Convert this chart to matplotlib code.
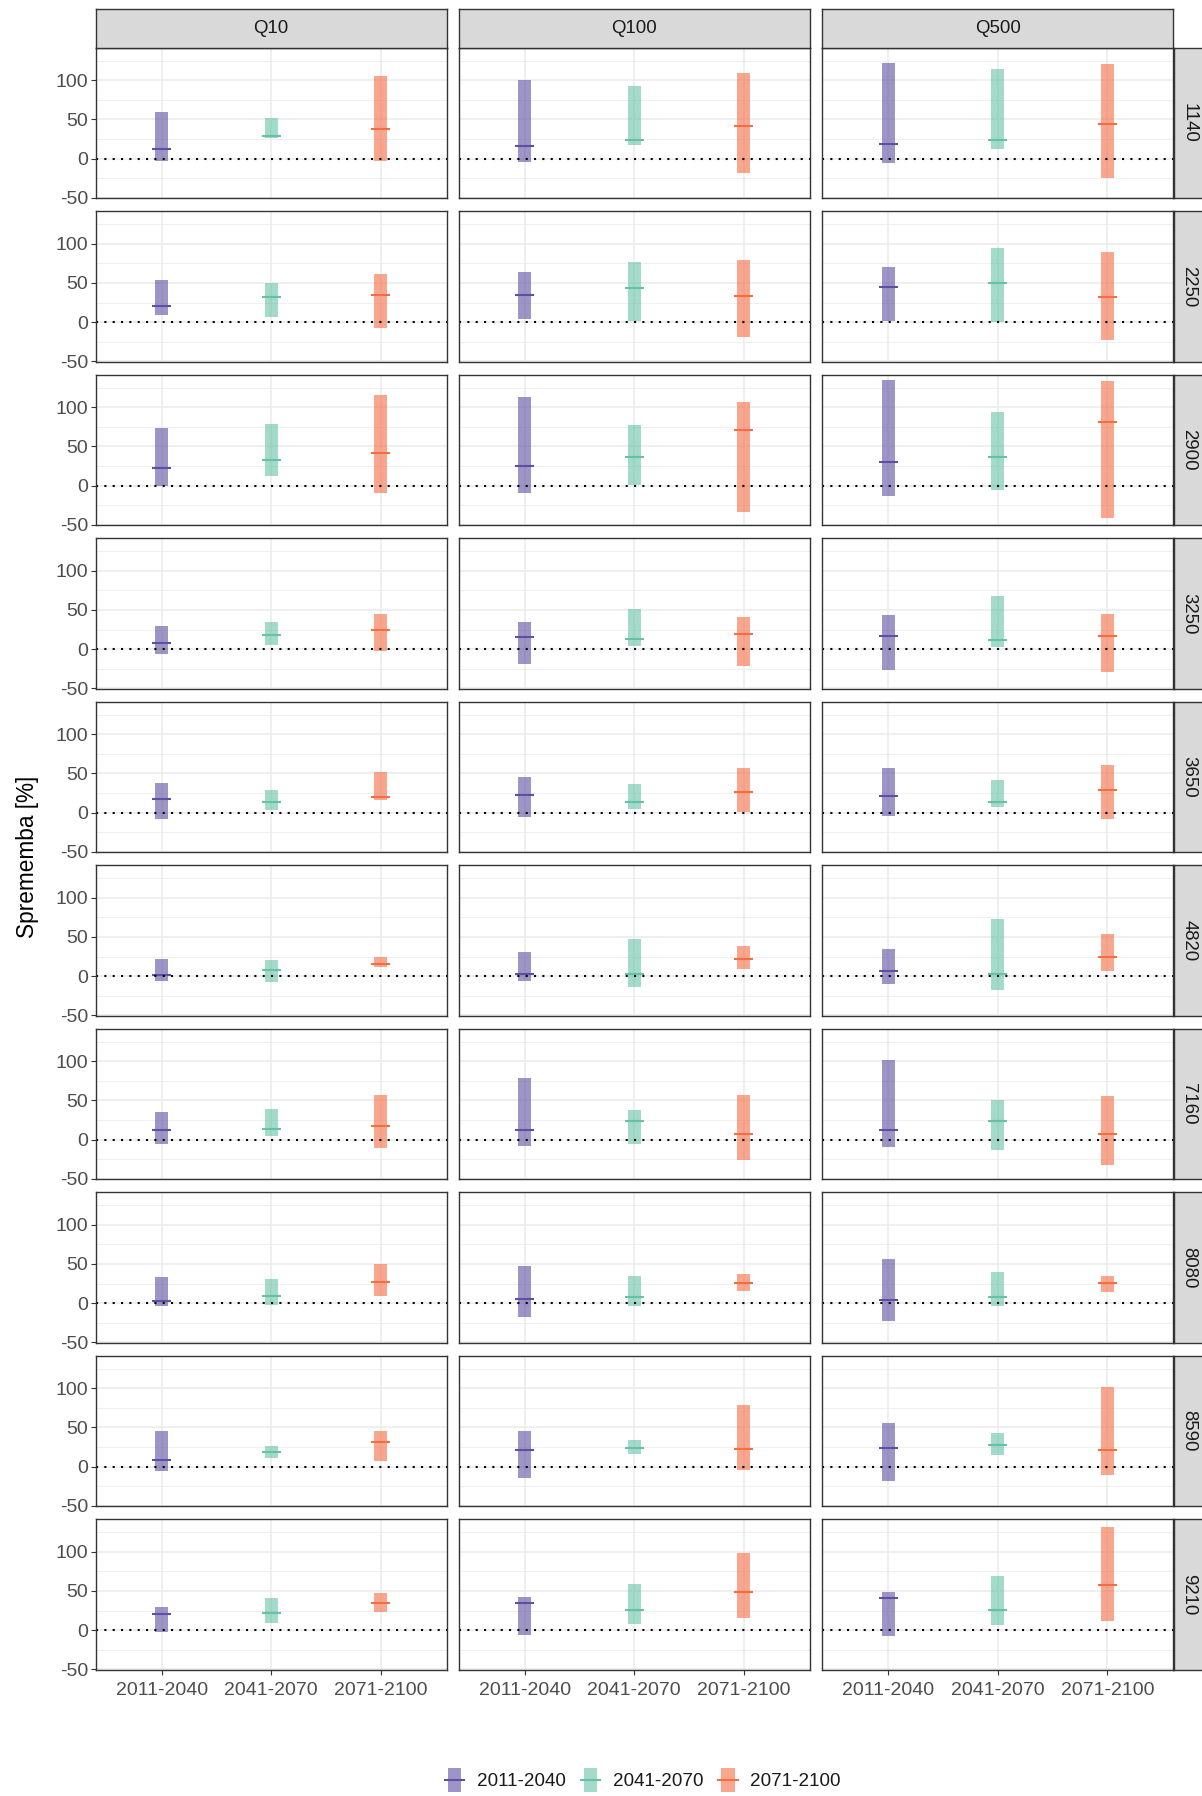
import matplotlib
matplotlib.use("Agg")
import matplotlib.pyplot as plt
import numpy as np
from matplotlib.patches import Patch, Rectangle
from matplotlib.lines import Line2D
from matplotlib.legend_handler import HandlerBase

plt.rcParams['font.family'] = ['Liberation Sans', 'DejaVu Sans']
plt.rcParams['axes.unicode_minus'] = False

# ---------------- data ----------------
stations = ["1140", "2250", "2900", "3250", "3650", "4820", "7160", "8080", "8590", "9210"]
quantiles = ["Q10", "Q100", "Q500"]
periods = ["2011-2040", "2041-2070", "2071-2100"]
period_colors = ["#5E4FA2", "#66C2A5", "#F46D43"]
y_ticks = [-50, 0, 50, 100]
y_tick_labels = ["-50", "0", "50", "100"]
y_minor = [-25, 25, 75, 125]

# 2011-2040 (rows: stations, cols: Q10, Q100, Q500)
p1_lo = [[-3, -4.7, -5.5], [9.4, 3.8, 1.7], [0, -9.7, -13.6], [-5.6, -19, -26], [-8, -5.5, -3.8],
         [-6.4, -6, -9.4], [-6, -8.5, -9.4], [-3.4, -17, -23], [-6, -14, -18.3], [-2.6, -6.4, -8]]
p1_med = [[12, 16.6, 18.7], [20, 34, 44.4], [22, 25.4, 30], [7.3, 15, 16.2], [17.9, 22, 21.3],
          [1, 3, 6.8], [12, 12.8, 12.4], [3, 5.1, 3.8], [8, 21.3, 23.8], [20.9, 34, 40.4]]
p1_hi = [[59, 100, 122], [54, 64, 70.5], [73, 112.7, 134], [29.5, 34.6, 43.6], [38.3, 45.5, 57],
         [22, 30.8, 35], [35, 78.6, 100.9], [33.8, 47.9, 56], [45, 45, 55], [29.4, 42.6, 48.5]]

# 2041-2070
p2_lo = [[26, 17.4, 12.8], [6, 1, 0.4], [12.3, 0.4, -5.5], [4.7, 3.8, 3.4], [3, 5, 7.2],
         [-7.7, -14, -17], [4.3, -5.6, -12.8], [-1.7, -3.8, -3.8], [10.6, 15.7, 15], [9.4, 8, 6]]
p2_med = [[28.5, 24, 24], [32, 43, 50], [32.6, 36.4, 36.9], [18.4, 12.8, 11.1], [14, 13.6, 13.2],
          [8, 3, 2.6], [14.1, 24.4, 23.5], [9, 7.7, 7.3], [18.7, 24.3, 27.2], [21.3, 25.1, 26]]
p2_hi = [[52, 93, 114], [50, 76.5, 94.4], [78.4, 76.7, 93.6], [35, 51.7, 67.5], [29, 36, 41.3],
         [21, 47.4, 72.2], [39.7, 37.6, 50.9], [30.3, 35, 39.3], [26.4, 34.5, 42.6], [40.9, 58.7, 68.5]]

# 2071-2100
p3_lo = [[-3.4, -18, -24], [-8, -18.4, -23], [-9.7, -33, -41], [-2, -21.4, -29], [16.6, 1, -8],
         [11.5, 9, 6], [-10.3, -25.6, -32.5], [9.4, 15.8, 14.5], [6.8, -4.7, -10], [23.4, 15.7, 12.3]]
p3_med = [[38, 41.7, 43.8], [34.6, 33, 32], [41, 70.8, 81], [24, 18.8, 16.2], [19.6, 26, 29],
          [15.4, 21.8, 24.8], [18, 6.8, 6.8], [26.5, 25.6, 25.6], [31.5, 22, 20.9], [34.9, 49, 57]]
p3_hi = [[105, 108.5, 121], [61, 78.6, 89.7], [115, 106, 133], [45.3, 40.6, 45.3], [52, 57.4, 61],
         [24.4, 38, 53.8], [57.3, 56.4, 55], [49.6, 37.2, 34.2], [45, 78.3, 102], [47.2, 98.7, 131]]

los = [p1_lo, p2_lo, p3_lo]
meds = [p1_med, p2_med, p3_med]
his = [p1_hi, p2_hi, p3_hi]

# ---------------- layout ----------------
W, H = 1202, 1796
fig = plt.figure(figsize=(W / 100, H / 100), dpi=100)
fig.patch.set_facecolor("white")


def rect(x0, y0, w, h):
    return [x0 / W, 1 - (y0 + h) / H, w / W, h / H]


col_left = [96, 459, 822.5]
pw = 350.5
row_top0 = 47.7
pitch = 163.5
ph = 150.5
strip_top = 9.3
strip_right_x = 1173.5
strip_right_w = W - strip_right_x + 2

BAR_W = 0.122
MED_W = 0.177
FS = 14
FS_STRIP = 13.4
border = "#333333"

xpos = np.arange(1, len(periods) + 1)

for r, st in enumerate(stations):
    top = row_top0 + r * pitch
    for c, q in enumerate(quantiles):
        ax = fig.add_axes(rect(col_left[c], top, pw, ph))
        ax.set_facecolor("white")
        for k in range(len(periods)):
            lo = los[k][r][c]
            hi = his[k][r][c]
            md = meds[k][r][c]
            ax.bar(xpos[k], hi - lo, bottom=lo, width=BAR_W, color=period_colors[k],
                   alpha=0.6, linewidth=0, zorder=2)
            ax.hlines(md, xpos[k] - MED_W / 2, xpos[k] + MED_W / 2,
                      color=period_colors[k], linewidth=1.5, zorder=3)
        ax.axhline(0, color="black", linestyle=(0, (1, 3)), linewidth=1.5, zorder=4)
        ax.set_xlim(0.4, 3.6)
        ax.set_ylim(-50.3, 141.3)
        ax.set_yticks(y_ticks)
        ax.set_yticks(y_minor, minor=True)
        ax.set_xticks(xpos)
        ax.grid(which="major", color="#ebebeb", linewidth=1.1, zorder=0)
        ax.grid(which="minor", axis="y", color="#ebebeb", linewidth=0.55, zorder=0)
        ax.set_axisbelow(True)
        ax.tick_params(which="minor", length=0)
        ax.tick_params(which="major", length=3.5, width=0.8, color=border,
                       labelsize=FS, labelcolor="#4d4d4d")
        ax.tick_params(axis="y", pad=2.0)
        ax.tick_params(axis="x", pad=5.0)
        if c == 0:
            ax.set_yticklabels(y_tick_labels)
        else:
            ax.tick_params(axis="y", left=False, labelleft=False)
        if r == len(stations) - 1:
            ax.set_xticklabels(periods)
        else:
            ax.tick_params(axis="x", bottom=False, labelbottom=False)
        for sp in ax.spines.values():
            sp.set_color(border)
            sp.set_linewidth(1.0)
            sp.set_zorder(5)

        # top strips
        if r == 0:
            sax = fig.add_axes(rect(col_left[c], strip_top, pw, row_top0 - strip_top))
            sax.set_facecolor("#d9d9d9")
            sax.set_xticks([])
            sax.set_yticks([])
            for sp in sax.spines.values():
                sp.set_color(border)
                sp.set_linewidth(1.0)
            sax.text(0.5, 0.5, q, ha="center", va="center", fontsize=FS_STRIP,
                     color="#1a1a1a", transform=sax.transAxes)

    # right strip
    rax = fig.add_axes(rect(strip_right_x, top, strip_right_w, ph))
    rax.set_facecolor("#d9d9d9")
    rax.set_xticks([])
    rax.set_yticks([])
    for sp in rax.spines.values():
        sp.set_color(border)
        sp.set_linewidth(1.0)
    rax.text(0.5, 0.5, st, ha="center", va="center", rotation=270, fontsize=FS_STRIP,
             color="#1a1a1a", transform=rax.transAxes)

fig.text(28 / W, 1 - 857 / H, "Sprememba [%]", rotation=90, ha="center", va="center",
         fontsize=16.3, color="black")


# ---------------- legend ----------------
class RangeKey(HandlerBase):
    def create_artists(self, legend, orig_handle, xdescent, ydescent, width, height,
                       fontsize, trans):
        col = orig_handle.get_facecolor()
        cx = -xdescent + width / 2
        cy = -ydescent + height / 2
        rw = 9.4
        rct = Rectangle((cx - rw / 2, -ydescent), rw, height, facecolor=col[:3],
                        alpha=0.6, linewidth=0, transform=trans)
        ln = Line2D([-xdescent, -xdescent + width], [cy, cy], color=col[:3],
                    linewidth=1.5, transform=trans)
        return [rct, ln]


LEG_FS = 13.6
handles = [Patch(facecolor=period_colors[k], label=periods[k]) for k in range(len(periods))]
fig.legend(handles=handles, labels=periods, handler_map={Patch: RangeKey()},
           loc="center", bbox_to_anchor=(643 / W, 1 - 1780 / H), ncol=3, frameon=False,
           fontsize=LEG_FS, handlelength=13.7 / LEG_FS, handleheight=21.6 / LEG_FS,
           handletextpad=0.68, columnspacing=0.8, borderpad=0, labelcolor="#1a1a1a")

fig.savefig("out.png", dpi=100, facecolor="white")
